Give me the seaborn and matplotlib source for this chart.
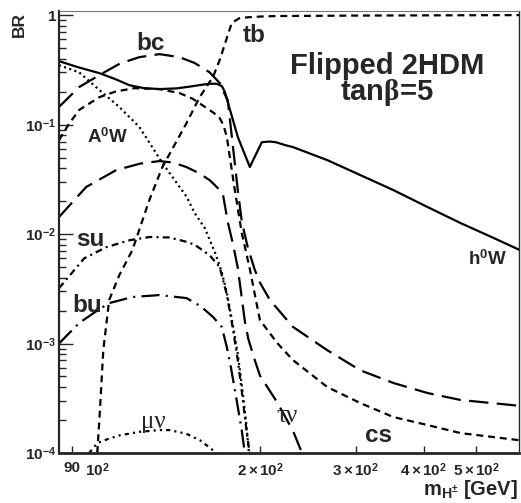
import matplotlib
matplotlib.use("Agg")
import matplotlib.pyplot as plt
import numpy as np
import pandas as pd
import seaborn as sns
from matplotlib.ticker import FixedLocator, FixedFormatter, NullLocator, LogLocator, NullFormatter

# ---------------- data ----------------
hW_x = [85, 92, 100.9, 108, 114.6, 122, 130.2, 140, 148, 155, 161, 166, 169.7, 171.9,
        181.7, 191.2, 201.2, 208, 213.6, 222, 229.6, 265.6, 305.6, 351.9, 406.8, 468.1, 538.9, 600]
hW_y = [0.38, 0.335, 0.295, 0.26, 0.229, 0.215, 0.211, 0.214, 0.222, 0.230, 0.236, 0.236, 0.225, 0.200,
        0.077, 0.041, 0.069, 0.070, 0.069, 0.065, 0.0623, 0.0474, 0.0346, 0.0252, 0.01765, 0.0126, 0.0092, 0.0072]

bc_x = [85, 92.6, 100.9, 110, 119.6, 130.2, 141.8, 151.3, 161.2, 168.2, 171, 174.1, 181.7, 184.8,
        189.6, 195.3, 199.6, 208.2, 229.6, 265.6, 305.6, 351.9, 406.8, 468.1, 600]
bc_y = [0.145, 0.22, 0.283, 0.36, 0.413, 0.44, 0.413, 0.365, 0.30, 0.24, 0.20, 0.167, 0.025, 0.013,
        0.0075, 0.0047, 0.0036, 0.0025, 0.00142, 0.00087, 0.00057, 0.000436, 0.000353, 0.000305, 0.00027]

cs_x = [85, 88.5, 92.6, 100.9, 108, 116.8, 130.2, 141.8, 150, 158, 164, 168.2, 171, 173.4, 177.1,
        179.4, 184.8, 191.2, 195.3, 199.6, 214.8, 229.6, 265.6, 305.6, 351.9, 406.8, 468.1, 600]
cs_y = [0.072, 0.10, 0.136, 0.178, 0.20, 0.215, 0.211, 0.194, 0.172, 0.145, 0.128, 0.115, 0.098, 0.077, 0.0384,
        0.0252, 0.0102, 0.0048, 0.0028, 0.00164, 0.00101, 0.000707, 0.000401, 0.000286, 0.000213, 0.00018, 0.000152, 0.000131]

taunu_x = [85, 95.4, 108.4, 120, 130.2, 138, 146.1, 154, 161.2, 166, 170.4, 174.1, 178.2, 181.7,
           184.8, 187.2, 190, 195, 199.6, 214.8, 229.6, 238.7]
taunu_y = [0.0143, 0.0269, 0.0384, 0.0440, 0.0464, 0.045, 0.0409, 0.036, 0.0311, 0.027, 0.0237, 0.0129, 0.0079, 0.0049,
           0.0026, 0.0016, 0.0011, 0.00072, 0.00051, 0.00029, 0.00016, 0.0001]

A0W_x = [85, 92.6, 100.9, 109.8, 119.6, 131.9, 146.1, 151.2, 157.8, 164.7, 169.7, 173.4, 177.8,
         181.7, 185, 188, 190.5]
A0W_y = [0.349, 0.30, 0.207, 0.145, 0.095, 0.0445, 0.022, 0.0156, 0.0114, 0.0069, 0.0045, 0.0029, 0.0015,
         0.0008, 0.0004, 0.0002, 0.0001]

su_x = [85, 94.6, 104, 115, 125, 136, 146, 151.2, 161.2, 168.2, 173.4, 177.8, 181.7, 185, 188, 191]
su_y = [0.0032, 0.0060, 0.0076, 0.0088, 0.0094, 0.0093, 0.0085, 0.0080, 0.0064, 0.0050, 0.0028, 0.0014,
        0.0007, 0.00035, 0.00018, 0.0001]

bu_x = [85, 92.6, 100, 105.2, 116.1, 130.2, 146.1, 155, 163.5, 169.7, 173.4, 176.5, 179.4, 182, 184.8, 187.2]
bu_y = [0.001, 0.00154, 0.0020, 0.00234, 0.00266, 0.00277, 0.0026, 0.0022, 0.00175, 0.00142, 0.00093,
        0.0006, 0.00038, 0.00025, 0.00016, 0.0001]

munu_x = [96.6, 100, 105, 110, 119.6, 130.2, 135.9, 146, 155, 163.5, 166]
munu_y = [0.0001, 0.000123, 0.000135, 0.000145, 0.000156, 0.000162, 0.000162, 0.00015, 0.00013, 0.000106, 0.0001]

tb_x = [100, 100.9, 102.6, 105.2, 109.8, 116.1, 124.8, 131.9, 146.1, 154.5, 163.5, 168.2, 177.1,
        183.2, 190, 200, 213.6, 300, 600]
tb_y = [0.0001, 0.0002, 0.00087, 0.0025, 0.0042, 0.00714, 0.0205, 0.041, 0.103, 0.178, 0.272, 0.388, 0.85,
        0.94, 0.955, 0.97, 0.98, 0.99, 1.0]

xtick_vals = [90, 100, 200, 300, 400, 500]
xtick_labels = ["90", r"$10^{2}$", r"$2\times10^{2}$", r"$3\times10^{2}$", r"$4\times10^{2}$", r"$5\times10^{2}$"]
ytick_vals = [1e-4, 1e-3, 1e-2, 1e-1, 1]
ytick_labels = [r"$10^{-4}$", r"$10^{-3}$", r"$10^{-2}$", r"$10^{-1}$", "1"]

# ---------------- style ----------------
sns.set_style("ticks")
plt.rcParams.update({
    "font.family": ["Liberation Sans", "DejaVu Sans"],
    "font.weight": "bold",
    "mathtext.fontset": "custom",
    "mathtext.rm": "Liberation Sans:bold",
    "mathtext.bf": "Liberation Sans:bold",
    "mathtext.sf": "Liberation Sans:bold",
    "mathtext.it": "Liberation Serif",
    "lines.scale_dashes": False,
    "axes.linewidth": 1.5,
})

LONG = (14, 6)
SHORT = (5, 3.5)
DOT = (1.5, 2.4)
DASHDOT = (5, 3, 1.5, 3)
LONGDASHDOT = (13, 4.5, 1.5, 4.5)
DASHDOTDOT = (3, 3, 1.5, 3, 1.5, 3)

W, H = 521, 503
fig = plt.figure(figsize=(W / 100, H / 100), dpi=100)
ax = fig.add_axes([59 / W, 1 - 453 / H, (519 - 59) / W, (453 - 11) / H])
ax.set_xscale("log")
ax.set_yscale("log")

series = [
    (hW_x, hW_y, None),
    (bc_x, bc_y, LONG),
    (cs_x, cs_y, SHORT),
    (taunu_x, taunu_y, LONG),
    (A0W_x, A0W_y, DOT),
    (su_x, su_y, DASHDOT),
    (bu_x, bu_y, LONGDASHDOT),
    (munu_x, munu_y, DASHDOTDOT),
    (tb_x, tb_y, SHORT),
]
for xs, ys, dash in series:
    df = pd.DataFrame({"mass": xs, "BR": ys})
    sns.lineplot(data=df, x="mass", y="BR", ax=ax, color="black", linewidth=1.6,
                 errorbar=None, sort=False, legend=False)
    line = ax.lines[-1]
    if dash is not None:
        line.set_dashes(dash)
    line.set_dash_capstyle("butt")

ax.set_xlim(85, 600)
ax.set_ylim(1e-4, 1.09)
ax.set_xlabel("")
ax.set_ylabel("")

ax.xaxis.set_major_locator(FixedLocator(xtick_vals))
ax.xaxis.set_major_formatter(FixedFormatter(xtick_labels))
ax.xaxis.set_minor_locator(NullLocator())
ax.yaxis.set_major_locator(FixedLocator(ytick_vals))
ax.yaxis.set_major_formatter(FixedFormatter(ytick_labels))
ax.yaxis.set_minor_locator(LogLocator(base=10, subs=np.arange(2, 10), numticks=20))
ax.yaxis.set_minor_formatter(NullFormatter())

ax.tick_params(axis="x", which="major", direction="in", length=5, width=1,
               labelsize=11, pad=6, top=False)
ax.tick_params(axis="y", which="major", direction="in", length=10, width=1,
               labelsize=11, pad=2, right=False)
ax.tick_params(axis="y", which="minor", direction="in", length=5, width=1, right=False)
for lab in ax.get_xticklabels() + ax.get_yticklabels():
    lab.set_fontweight("bold")

ax.spines["left"].set_linewidth(1.6)
ax.spines["bottom"].set_linewidth(2.0)
ax.spines["right"].set_linewidth(1.0)
ax.spines["top"].set_linewidth(0.8)
ax.spines["top"].set_color("#777777")
for s in ax.spines.values():
    s.set_visible(True)


def ftext(px, py, s, size, **kw):
    kw.setdefault("ha", "center")
    kw.setdefault("va", "baseline")
    kw.setdefault("fontweight", "bold")
    return fig.text(px / W, 1 - py / H, s, fontsize=size, **kw)


ftext(151, 50, "bc", 17.5)
ftext(254, 42, "tb", 17.5)
ftext(108, 143, r"A$^{0}$W", 13.5)
ftext(90, 246, "su", 17.5)
ftext(87, 312, "bu", 17.5)
ftext(378, 442, "cs", 17.5)
ftext(488, 265, r"h$^{0}$W", 13.5)
ftext(153, 428, "μν", 18, fontweight="normal", family=["Liberation Serif", "DejaVu Serif"])
ftext(287, 422, "τν", 18, fontweight="normal", family=["Liberation Serif", "DejaVu Serif"])
ftext(387, 100, "Flipped 2HDM\n" + r"tan$\beta$=5", 21, linespacing=0.86,
      multialignment="center")

# axis titles
ftext(12, 37, "BR", 12.5, rotation=90, ha="left", va="bottom")
ftext(518, 495, r"m$_{\mathbf{H^{\pm}}}$ [GeV]", 14.5, ha="right")

fig.savefig("out.png", dpi=100)
